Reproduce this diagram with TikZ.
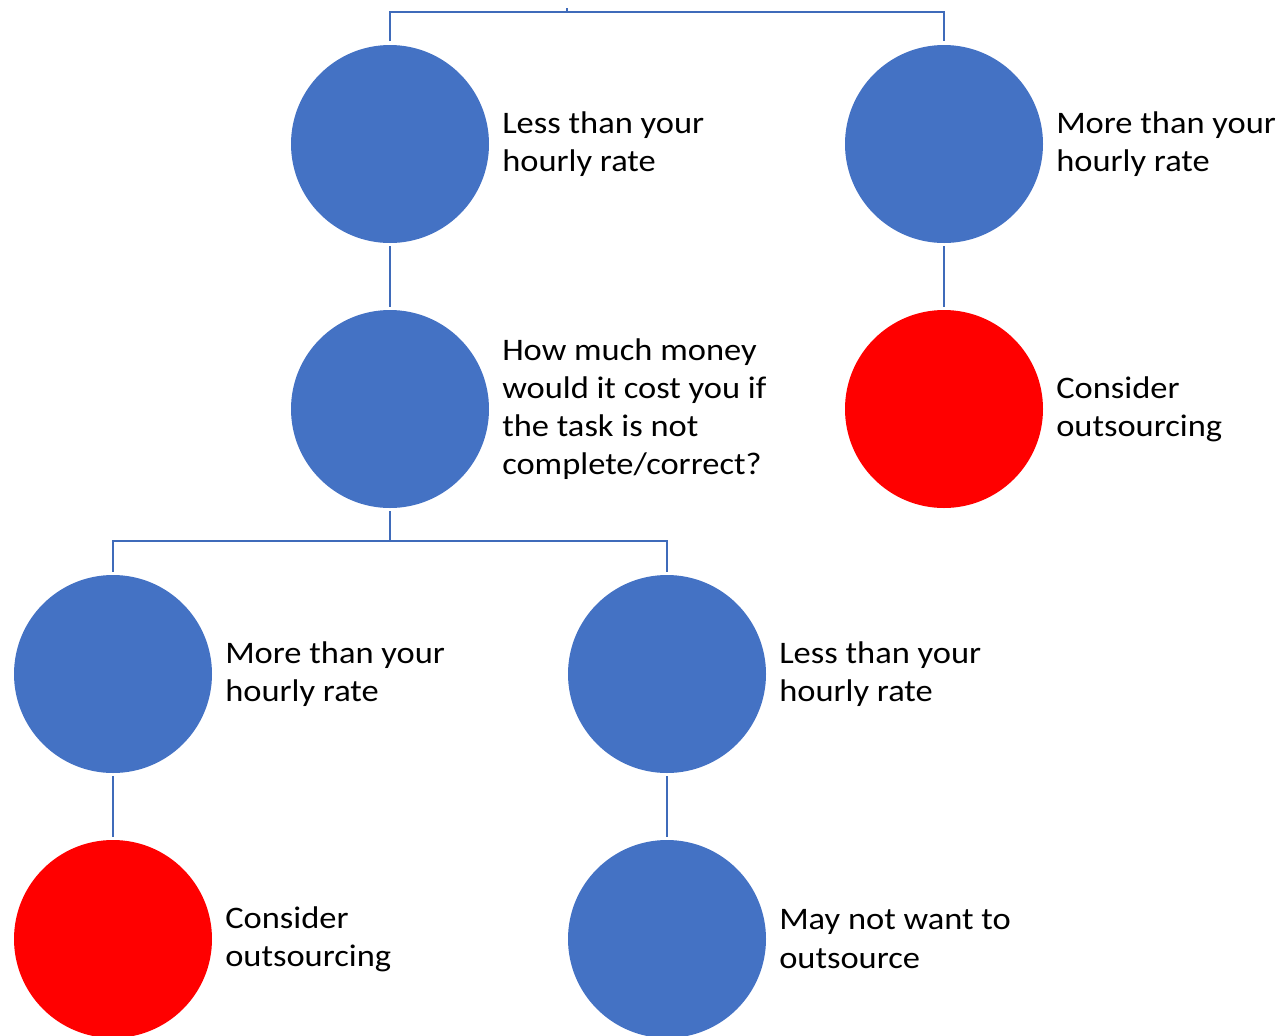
\documentclass[tikz,border=0pt]{standalone}
\usepackage{fontspec}
\setmainfont{Carlito}[FakeStretch=1.1]
\definecolor{cblue}{HTML}{4472C4}
\definecolor{cline}{HTML}{3F6BBA}
\definecolor{cred}{HTML}{FF0000}
\begin{document}
\begin{tikzpicture}[x=0.75pt,y=-0.75pt,
  bub/.style={circle,fill=cblue,minimum size=148.5pt,inner sep=0pt,outer sep=0pt},
  redbub/.style={bub,fill=cred},
  lbl/.style={anchor=west,align=left,inner sep=0pt,font=\fontsize{23.5}{28.6}\selectfont},
  conn/.style={draw=cline,line width=1.9pt}]
\useasboundingbox (0,0) rectangle (1279,1036);
\node[bub] (a) at (390,144) {};
\node[bub] (b) at (944,144) {};
\node[bub] (c) at (390,409) {};
\node[redbub] (d) at (944,409) {};
\node[bub] (e) at (113,674) {};
\node[bub] (f) at (667,674) {};
\node[redbub] (g) at (113,939) {};
\node[bub] (h) at (667,939) {};
\node[lbl] (ta) at (502,144) {Less than your\\hourly rate};
\node[lbl] (tb) at (1056,144) {More than your\\hourly rate};
\node[lbl] (tc) at (502,409) {How much money\\would it cost you if\\the task is not\\complete/correct?};
\node[lbl] (td) at (1056,409) {Consider\\outsourcing};
\node[lbl] (te) at (225,674) {More than your\\hourly rate};
\node[lbl] (tf) at (779,674) {Less than your\\hourly rate};
\node[lbl] (tg) at (225,939) {Consider\\outsourcing};
\node[lbl] (th) at (779,939) {May not want to\\outsource};
\coordinate (top) at (567,12);
\coordinate (stub) at (567,8);
\coordinate (mid) at (390,541);
\draw[conn] (stub) -- (top);
\draw[conn] ([yshift=3pt]a.north) -- (390,12) -- (944,12) -- ([yshift=3pt]b.north);
\draw[conn] ([yshift=-2.5pt]a.south) -- ([yshift=2.5pt]c.north);
\draw[conn] ([yshift=-2.5pt]b.south) -- ([yshift=2.5pt]d.north);
\draw[conn] ([yshift=-2.5pt]c.south) -- (mid);
\draw[conn] ([yshift=2.5pt]e.north) -- (113,541) -- (667,541) -- ([yshift=2.5pt]f.north);
\draw[conn] ([yshift=-2.5pt]e.south) -- ([yshift=2.5pt]g.north);
\draw[conn] ([yshift=-2.5pt]f.south) -- ([yshift=2.5pt]h.north);
\end{tikzpicture}
\end{document}
